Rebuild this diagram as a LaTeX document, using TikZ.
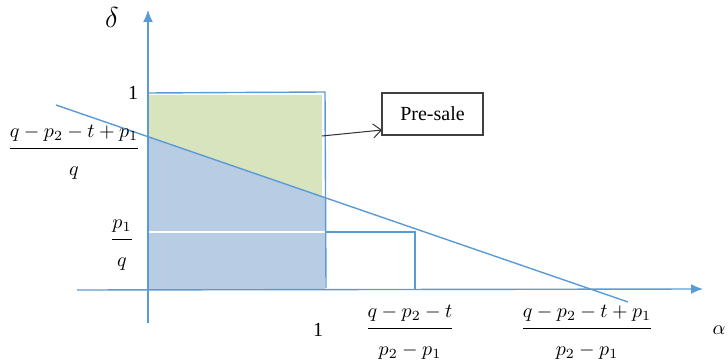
\documentclass[tikz,border=0pt]{standalone}
\usepackage{amsmath}
\usepackage{fontspec}
\setmainfont{Liberation Serif}
\usetikzlibrary{arrows.meta}
\definecolor{axisblue}{RGB}{91,155,213}
\definecolor{fillblue}{RGB}{184,204,228}
\definecolor{fillgreen}{RGB}{215,228,189}
\newcommand{\wfrac}[2]{\dfrac{#1\rule[-4pt]{0pt}{4pt}}{\rule{0pt}{12pt}#2}}
\begin{document}
\begin{tikzpicture}[x=0.5pt, y=-0.5pt,
            axis/.style={axisblue, line width=0.7pt, -{Latex[length=6pt,width=5pt]}},
            bline/.style={axisblue, line width=0.7pt},
            lab/.style={font=\normalsize, inner sep=1pt},
            box/.style={draw=black!75, line width=0.6pt, minimum width=50.5pt, minimum height=21pt, font=\normalsize},
            arrow/.style={black!80, line width=0.5pt, -{Straight Barb[length=4pt,width=7pt]}}
        ]
        \useasboundingbox (0,0) rectangle (728,363);

        % --- key points ---
        \coordinate (O) at (148,290);
        \coordinate (Ya) at (148,323);
        \coordinate (Yb) at (148,10);
        \coordinate (Xa) at (77,290);
        \coordinate (Xb) at (703,289);
        \coordinate (La) at (56,105);
        \coordinate (Lb) at (628,302);

        % --- regions ---
        \fill[fillgreen] (148,95) -- (322,95) -- (322,196.5) -- (148,136.7) -- cycle;
        \fill[fillblue] (148,136.7) -- (325,197.6) -- (325,290) -- (148,290) -- cycle;
        \draw[white, line width=0.8pt] (148,232) -- (325,232);

        % --- axes and lines ---
        \draw[axis] (Ya) -- (Yb);
        \draw[axis] (Xa) -- (Xb);
        \draw[bline] (148,93) -- (325,92) -- (326,288);
        \draw[bline] (La) -- (Lb);
        \draw[bline] (325,232) -- (415,232) -- (415,290);

        % --- labels ---
        \node[lab, font=\Large] (delta) at (112,18) {$\delta$};
        \node[lab] (one) at (133,93) {1};
        \node[lab] (cut) at (74,152) {$\wfrac{q-p_2-t+p_1}{q}$};
        \node[lab] (pq) at (122,245) {$\wfrac{p_1}{q}$};
        \node[lab] (onex) at (318,330) {1};
        \node[lab] (xa) at (410,332) {$\wfrac{q-p_2-t}{p_2-p_1}$};
        \node[lab] (xb) at (587,332) {$\wfrac{q-p_2-t+p_1}{p_2-p_1}$};
        \node[lab, anchor=east] (alpha) at (728,330) {$\alpha$};

        % --- pre-sale box ---
        \node[box] (pre) at (432.5,114) {Pre-sale};
        \coordinate (from) at (322,136);
        \coordinate (to) at (382,130);
        \draw[arrow] (from) -- (to);
        \end{tikzpicture}
\end{document}
